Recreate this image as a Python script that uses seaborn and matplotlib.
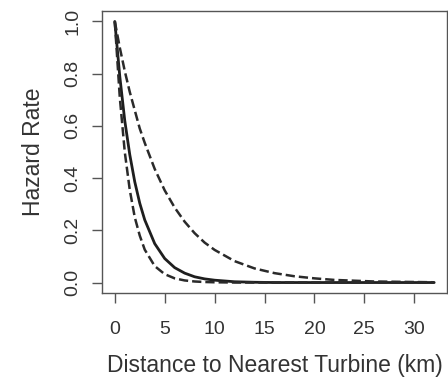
import numpy as np
import pandas as pd
import seaborn as sns
import matplotlib
matplotlib.use("Agg")
import matplotlib.pyplot as plt

# Values
distance_km = [0, 0.5, 1, 1.5, 2, 2.5, 3, 4, 5, 6, 7, 8, 9, 10, 12, 14,
               16, 18, 20, 22, 24, 26, 28, 30, 32]
hazard_mean = [1.0, 0.79, 0.62, 0.49, 0.386, 0.304, 0.24, 0.149, 0.092, 0.057,
               0.036, 0.022, 0.014, 0.009, 0.003, 0.001,
               0.0, 0.0, 0.0, 0.0, 0.0, 0.0, 0.0, 0.0, 0.0]
hazard_upper = [1.0, 0.90, 0.81, 0.73, 0.66, 0.59, 0.535, 0.435, 0.353, 0.287,
                0.233, 0.189, 0.153, 0.125, 0.082, 0.054,
                0.036, 0.024, 0.016, 0.010, 0.007, 0.004, 0.003, 0.002, 0.001]
hazard_lower = [1.0, 0.71, 0.50, 0.355, 0.25, 0.18, 0.126, 0.063, 0.032, 0.016,
                0.008, 0.004, 0.002, 0.001, 0.0, 0.0,
                0.0, 0.0, 0.0, 0.0, 0.0, 0.0, 0.0, 0.0, 0.0]
x_ticks = [0, 5, 10, 15, 20, 25, 30]
y_ticks = [0.0, 0.2, 0.4, 0.6, 0.8, 1.0]

df = pd.DataFrame({
    'distance': distance_km * 3,
    'hazard': hazard_mean + hazard_upper + hazard_lower,
    'curve': ['mean'] * len(distance_km) + ['upper'] * len(distance_km) + ['lower'] * len(distance_km),
})

sns.set_style("white")
plt.rcParams['font.family'] = ['Liberation Sans', 'DejaVu Sans']

fig = plt.figure(figsize=(4.48, 3.86), dpi=100)
ax = fig.add_axes([0.2277, 0.241, 0.77, 0.7305])

line_color = '#1e1e1e'
sns.lineplot(data=df[df.curve == 'mean'], x='distance', y='hazard', ax=ax,
             color=line_color, lw=2.0)
for name in ['upper', 'lower']:
    sns.lineplot(data=df[df.curve == name], x='distance', y='hazard', ax=ax,
                 color='#2a2a2a', lw=1.8, dashes=(4.5, 3.2), linestyle='--')

ax.set_xlim(-1.28, 33.28)
ax.set_ylim(-0.04, 1.04)
ax.set_xticks(x_ticks)
ax.set_yticks(y_ticks)
ax.set_yticklabels([f"{v:.1f}" for v in y_ticks], rotation=90, va='center')

text_color = '#333333'
ax.tick_params(axis='both', direction='out', length=7, width=1, color='#555555',
               labelsize=14, labelcolor=text_color, left=True, bottom=True)
ax.tick_params(axis='x', pad=13)
ax.tick_params(axis='y', pad=8)
for sp in ax.spines.values():
    sp.set_color('#555555')
    sp.set_linewidth(1)

ax.set_xlabel("Distance to Nearest Turbine (km)", fontsize=16.5, color=text_color, labelpad=12)
ax.set_ylabel("Hazard Rate", fontsize=16.5, color=text_color, labelpad=14)

fig.savefig("out.png", dpi=100)
